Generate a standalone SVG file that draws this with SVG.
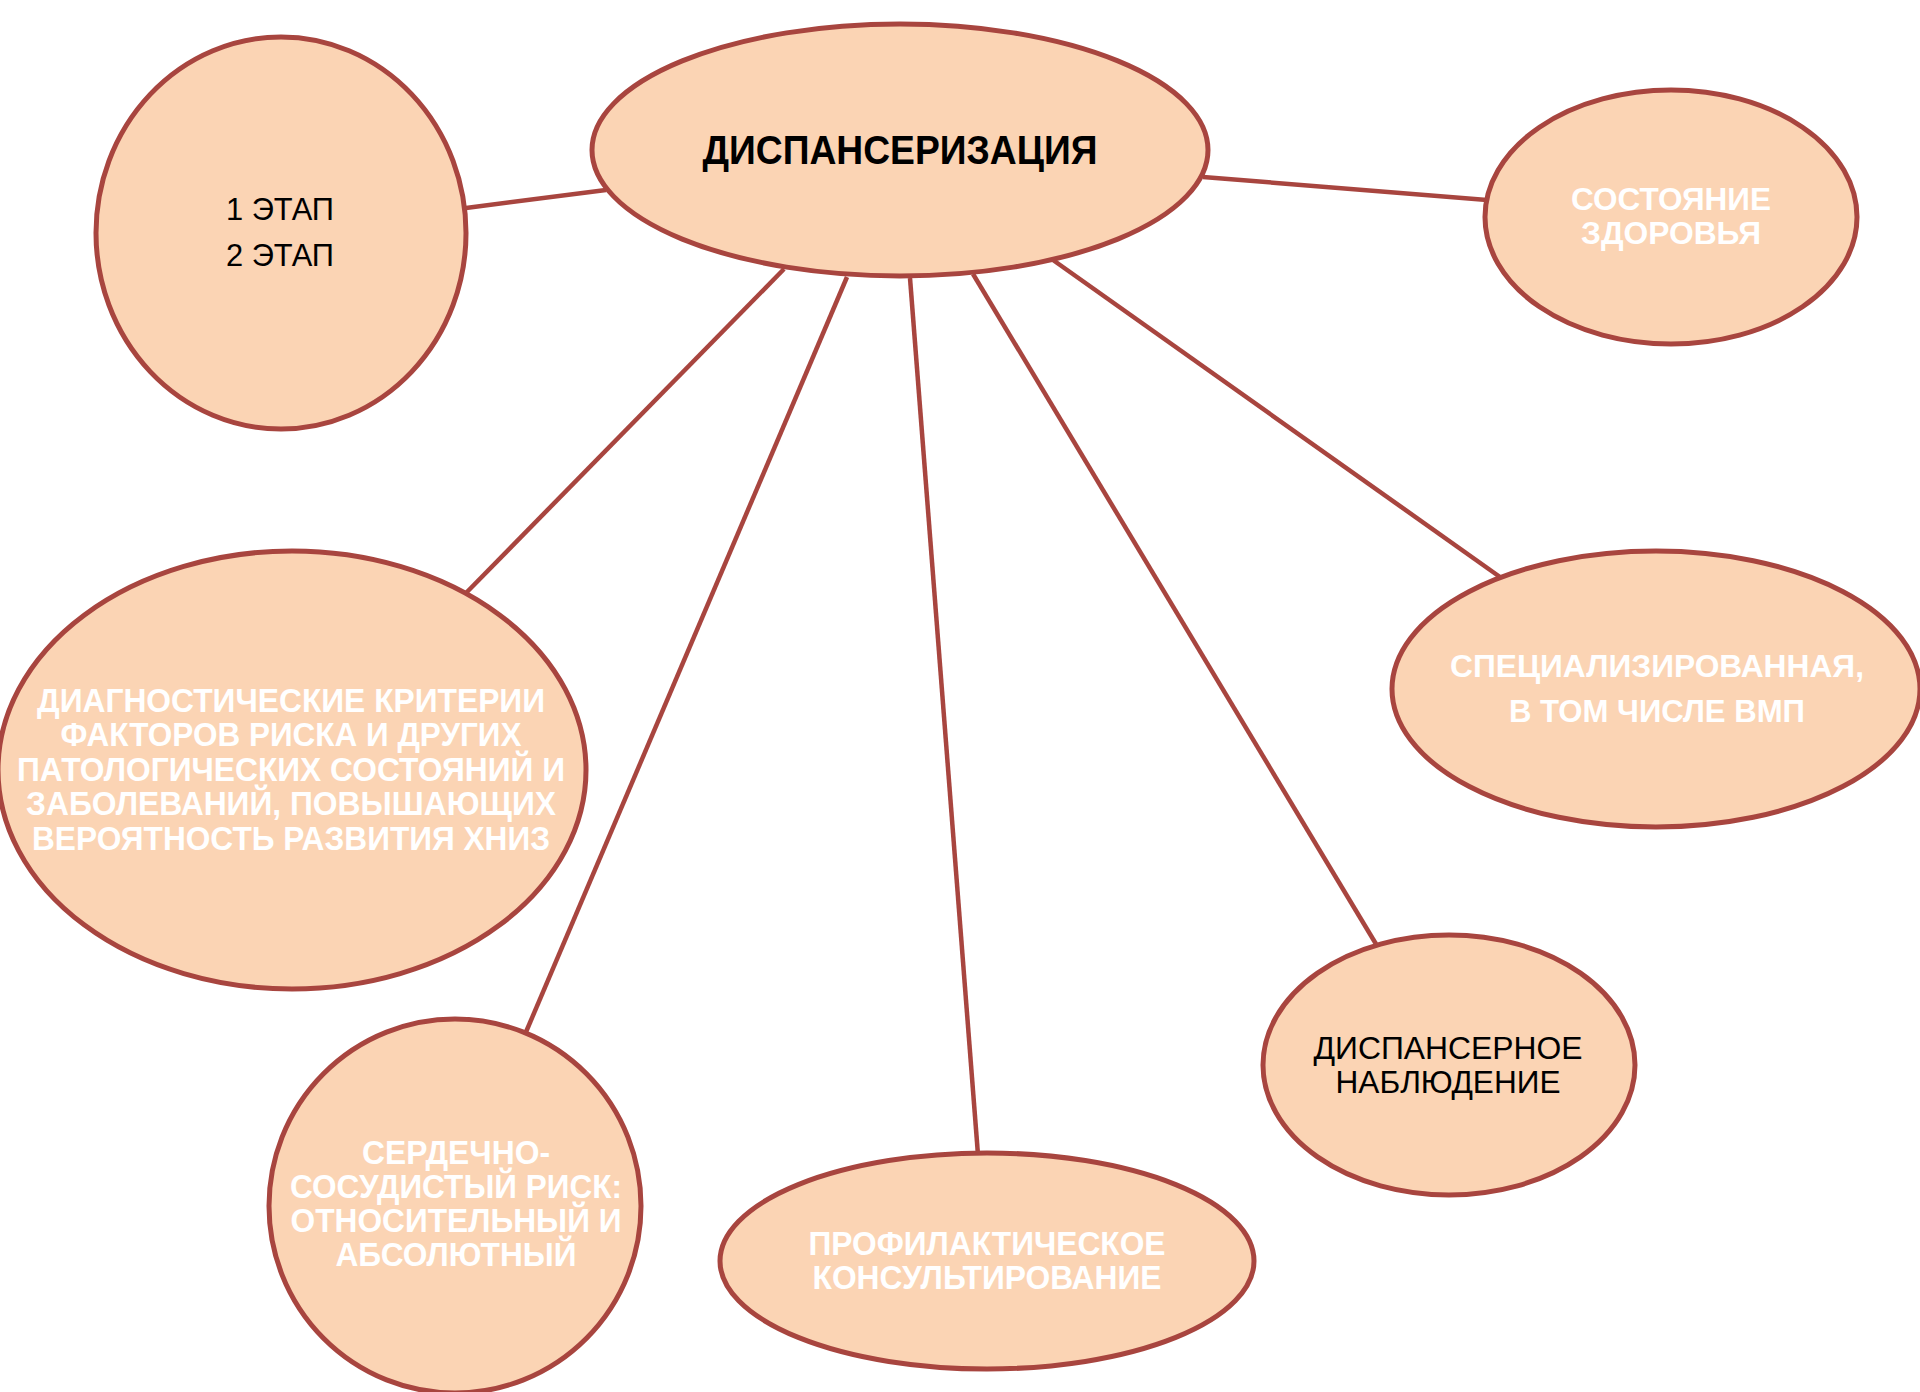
<svg xmlns="http://www.w3.org/2000/svg" width="1920" height="1392" viewBox="0 0 1920 1392">
<style>
.node{fill:#FBD4B4;stroke:#A8453F;stroke-width:5}
.conn{stroke:#A8453F;stroke-width:4.5;fill:none}
.w{font-family:"Liberation Sans",Arial,sans-serif;font-weight:bold;fill:#FFFFFF;text-anchor:middle}
.b{font-family:"Liberation Sans",Arial,sans-serif;fill:#000000;text-anchor:middle}
</style>
<rect width="1920" height="1392" fill="#FFFFFF"/>
<g id="connectors">
<line class="conn" x1="466" y1="208" x2="606" y2="190"/>
<line class="conn" x1="1203" y1="177" x2="1487" y2="200"/>
<line class="conn" x1="784" y1="269" x2="466" y2="593"/>
<line class="conn" x1="847" y1="277" x2="526" y2="1032"/>
<line class="conn" x1="910" y1="278" x2="978" y2="1155"/>
<line class="conn" x1="973" y1="274" x2="1376" y2="944"/>
<line class="conn" x1="1053" y1="260" x2="1500" y2="577"/>
</g>
<g id="node-center">
<ellipse class="node" cx="900" cy="150" rx="308" ry="126"/>
<text class="b" x="900" y="164" font-size="41" font-weight="bold" textLength="395" lengthAdjust="spacingAndGlyphs">ДИСПАНСЕРИЗАЦИЯ</text>
</g>
<g id="node-etap">
<ellipse class="node" cx="281" cy="233" rx="185" ry="196"/>
<text class="b" x="280" y="220" font-size="31" textLength="108" lengthAdjust="spacingAndGlyphs">1 ЭТАП</text>
<text class="b" x="280" y="266" font-size="31" textLength="108" lengthAdjust="spacingAndGlyphs">2 ЭТАП</text>
</g>
<g id="node-health">
<ellipse class="node" cx="1671" cy="217" rx="186" ry="127"/>
<text class="w" x="1671" y="210" font-size="31" textLength="200" lengthAdjust="spacingAndGlyphs">СОСТОЯНИЕ</text>
<text class="w" x="1671" y="244" font-size="31" textLength="180" lengthAdjust="spacingAndGlyphs">ЗДОРОВЬЯ</text>
</g>
<g id="node-diag">
<ellipse class="node" cx="292" cy="770" rx="294" ry="219"/>
<text class="w" x="291" y="712" font-size="33" textLength="508" lengthAdjust="spacingAndGlyphs">ДИАГНОСТИЧЕСКИЕ КРИТЕРИИ</text>
<text class="w" x="291" y="746" font-size="33" textLength="461" lengthAdjust="spacingAndGlyphs">ФАКТОРОВ РИСКА И ДРУГИХ</text>
<text class="w" x="291" y="781" font-size="33" textLength="548" lengthAdjust="spacingAndGlyphs">ПАТОЛОГИЧЕСКИХ СОСТОЯНИЙ И</text>
<text class="w" x="291" y="815" font-size="33" textLength="530" lengthAdjust="spacingAndGlyphs">ЗАБОЛЕВАНИЙ, ПОВЫШАЮЩИХ</text>
<text class="w" x="291" y="850" font-size="33" textLength="518" lengthAdjust="spacingAndGlyphs">ВЕРОЯТНОСТЬ РАЗВИТИЯ ХНИЗ</text>
</g>
<g id="node-spec">
<ellipse class="node" cx="1656" cy="689" rx="264" ry="138"/>
<text class="w" x="1657" y="677" font-size="31" textLength="414" lengthAdjust="spacingAndGlyphs">СПЕЦИАЛИЗИРОВАННАЯ,</text>
<text class="w" x="1657" y="722" font-size="31" textLength="296" lengthAdjust="spacingAndGlyphs">В ТОМ ЧИСЛЕ ВМП</text>
</g>
<g id="node-cvr">
<ellipse class="node" cx="455" cy="1206" rx="186" ry="187"/>
<text class="w" x="456" y="1164" font-size="33" textLength="188" lengthAdjust="spacingAndGlyphs">СЕРДЕЧНО-</text>
<text class="w" x="456" y="1198" font-size="33" textLength="332" lengthAdjust="spacingAndGlyphs">СОСУДИСТЫЙ РИСК:</text>
<text class="w" x="456" y="1232" font-size="33" textLength="331" lengthAdjust="spacingAndGlyphs">ОТНОСИТЕЛЬНЫЙ И</text>
<text class="w" x="456" y="1266" font-size="33" textLength="241" lengthAdjust="spacingAndGlyphs">АБСОЛЮТНЫЙ</text>
</g>
<g id="node-prof">
<ellipse class="node" cx="987" cy="1261" rx="267" ry="108"/>
<text class="w" x="987" y="1255" font-size="33" textLength="357" lengthAdjust="spacingAndGlyphs">ПРОФИЛАКТИЧЕСКОЕ</text>
<text class="w" x="987" y="1289" font-size="33" textLength="349" lengthAdjust="spacingAndGlyphs">КОНСУЛЬТИРОВАНИЕ</text>
</g>
<g id="node-obs">
<ellipse class="node" cx="1449" cy="1065" rx="186" ry="130"/>
<text class="b" x="1448" y="1059" font-size="32" textLength="269" lengthAdjust="spacingAndGlyphs">ДИСПАНСЕРНОЕ</text>
<text class="b" x="1448" y="1093" font-size="32" textLength="225" lengthAdjust="spacingAndGlyphs">НАБЛЮДЕНИЕ</text>
</g>
</svg>
